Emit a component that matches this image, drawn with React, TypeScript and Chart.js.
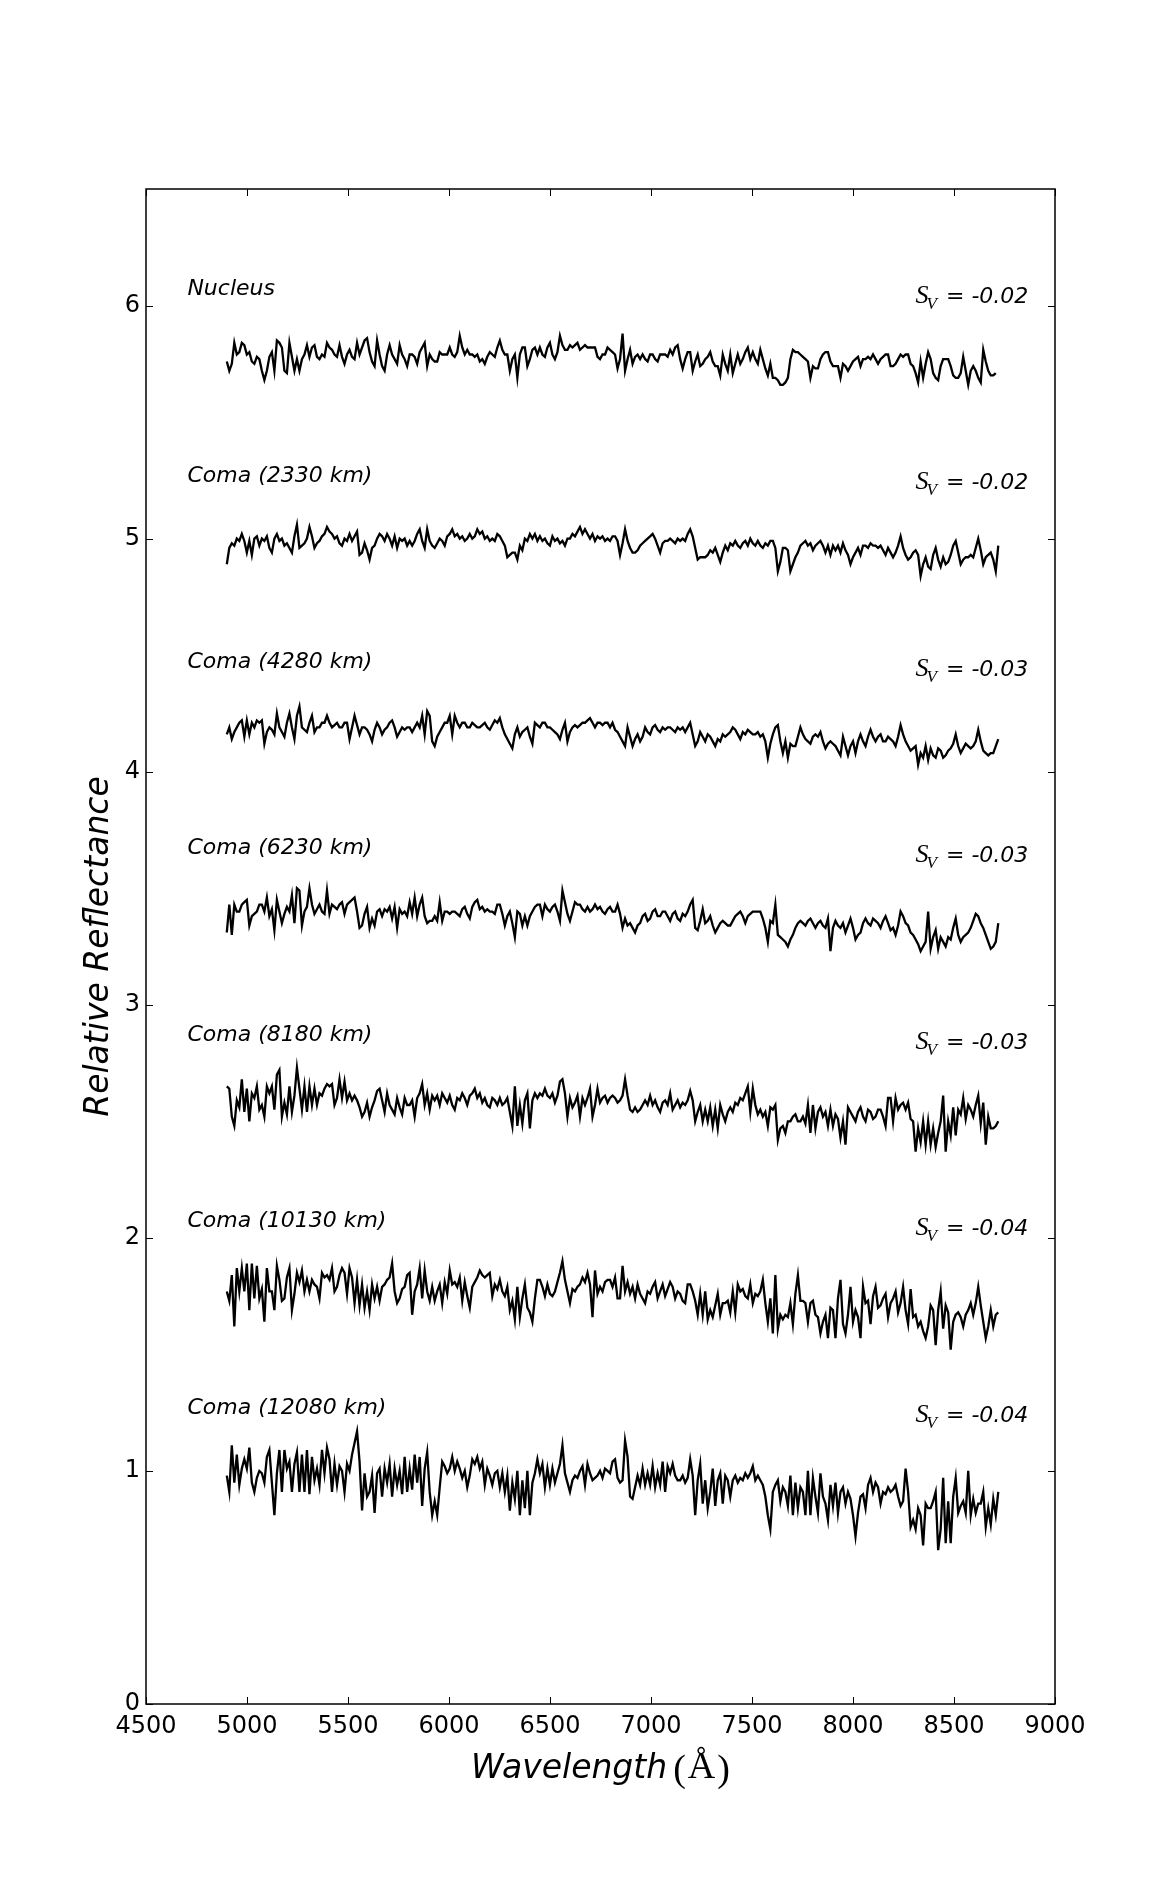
import React, { useEffect, useRef } from "react";
import { Chart, registerables } from "chart.js";

Chart.register(...registerables);

// Wavelength sampling (Å) of the spectra
const wavelengths = [
  4900,4912.4,4924.8,4937.2,4949.6,4962,4974.4,4986.8,4999.2,5011.6,
  5024,5036.4,5048.8,5061.2,5073.6,5086,5098.4,5110.8,5123.2,5135.6,
  5148,5160.4,5172.8,5185.2,5197.6,5210,5222.4,5234.8,5247.2,5259.6,
  5272,5284.4,5296.8,5309.2,5321.6,5334,5346.4,5358.8,5371.2,5383.6,
  5396,5408.4,5420.8,5433.2,5445.6,5458,5470.4,5482.8,5495.2,5507.6,
  5520,5532.4,5544.8,5557.2,5569.6,5582,5594.4,5606.8,5619.2,5631.6,
  5644,5656.4,5668.8,5681.2,5693.6,5706,5718.4,5730.8,5743.2,5755.6,
  5768,5780.4,5792.8,5805.2,5817.6,5830,5842.4,5854.8,5867.2,5879.6,
  5892,5904.4,5916.8,5929.2,5941.6,5954,5966.4,5978.8,5991.2,6003.6,
  6016,6028.4,6040.8,6053.2,6065.6,6078,6090.4,6102.8,6115.2,6127.6,
  6140,6152.4,6164.8,6177.2,6189.6,6202,6214.4,6226.8,6239.2,6251.6,
  6264,6276.4,6288.8,6301.2,6313.6,6326,6338.4,6350.8,6363.2,6375.6,
  6388,6400.4,6412.8,6425.2,6437.6,6450,6462.4,6474.8,6487.2,6499.6,
  6512,6524.4,6536.8,6549.2,6561.6,6574,6586.4,6598.8,6611.2,6623.6,
  6636,6648.4,6660.8,6673.2,6685.6,6698,6710.4,6722.8,6735.2,6747.6,
  6760,6772.4,6784.8,6797.2,6809.6,6822,6834.4,6846.8,6859.2,6871.6,
  6884,6896.4,6908.8,6921.2,6933.6,6946,6958.4,6970.8,6983.2,6995.6,
  7008,7020.4,7032.8,7045.2,7057.6,7070,7082.4,7094.8,7107.2,7119.6,
  7132,7144.4,7156.8,7169.2,7181.6,7194,7206.4,7218.8,7231.2,7243.6,
  7256,7268.4,7280.8,7293.2,7305.6,7318,7330.4,7342.8,7355.2,7367.6,
  7380,7392.4,7404.8,7417.2,7429.6,7442,7454.4,7466.8,7479.2,7491.6,
  7504,7516.4,7528.8,7541.2,7553.6,7566,7578.4,7590.8,7603.2,7615.6,
  7628,7640.4,7652.8,7665.2,7677.6,7690,7702.4,7714.8,7727.2,7739.6,
  7752,7764.4,7776.8,7789.2,7801.6,7814,7826.4,7838.8,7851.2,7863.6,
  7876,7888.4,7900.8,7913.2,7925.6,7938,7950.4,7962.8,7975.2,7987.6,
  8000,8012.4,8024.8,8037.2,8049.6,8062,8074.4,8086.8,8099.2,8111.6,
  8124,8136.4,8148.8,8161.2,8173.6,8186,8198.4,8210.8,8223.2,8235.6,
  8248,8260.4,8272.8,8285.2,8297.6,8310,8322.4,8334.8,8347.2,8359.6,
  8372,8384.4,8396.8,8409.2,8421.6,8434,8446.4,8458.8,8471.2,8483.6,
  8496,8508.4,8520.8,8533.2,8545.6,8558,8570.4,8582.8,8595.2,8607.6,
  8620,8632.4,8644.8,8657.2,8669.6,8682,8694.4,8706.8,8719.2,
];

const nucleus = [
  5.76,5.72,5.75,5.84,5.79,5.80,5.84,5.83,5.79,5.80,
  5.76,5.75,5.78,5.77,5.72,5.68,5.72,5.78,5.80,5.72,
  5.85,5.84,5.82,5.72,5.71,5.84,5.78,5.72,5.77,5.72,
  5.77,5.79,5.83,5.78,5.82,5.83,5.78,5.77,5.79,5.78,
  5.84,5.82,5.81,5.79,5.78,5.83,5.78,5.75,5.79,5.81,
  5.78,5.77,5.84,5.79,5.82,5.85,5.86,5.80,5.76,5.74,
  5.85,5.79,5.74,5.72,5.79,5.83,5.79,5.77,5.75,5.83,
  5.79,5.77,5.74,5.79,5.79,5.78,5.75,5.80,5.82,5.84,
  5.74,5.79,5.77,5.76,5.76,5.80,5.79,5.79,5.79,5.82,
  5.79,5.78,5.80,5.87,5.82,5.79,5.81,5.79,5.79,5.78,
  5.79,5.76,5.77,5.75,5.78,5.80,5.79,5.78,5.82,5.85,
  5.81,5.79,5.79,5.72,5.77,5.79,5.69,5.79,5.82,5.82,
  5.74,5.77,5.81,5.82,5.79,5.82,5.79,5.78,5.82,5.84,
  5.79,5.77,5.80,5.87,5.83,5.81,5.81,5.83,5.82,5.83,
  5.84,5.81,5.82,5.83,5.82,5.82,5.82,5.82,5.78,5.77,
  5.79,5.79,5.82,5.81,5.80,5.79,5.73,5.77,5.88,5.72,
  5.77,5.81,5.75,5.78,5.79,5.77,5.79,5.77,5.76,5.79,
  5.79,5.77,5.76,5.79,5.79,5.79,5.78,5.81,5.79,5.82,
  5.83,5.77,5.73,5.77,5.80,5.80,5.72,5.76,5.79,5.74,
  5.75,5.77,5.78,5.80,5.76,5.74,5.74,5.70,5.79,5.75,
  5.72,5.79,5.71,5.75,5.79,5.75,5.77,5.80,5.82,5.77,
  5.80,5.77,5.75,5.81,5.77,5.73,5.70,5.75,5.69,5.69,
  5.68,5.66,5.66,5.67,5.69,5.77,5.81,5.80,5.80,5.79,
  5.78,5.77,5.76,5.69,5.74,5.73,5.73,5.77,5.79,5.80,
  5.80,5.76,5.74,5.74,5.74,5.69,5.75,5.74,5.72,5.74,
  5.76,5.77,5.78,5.74,5.77,5.77,5.78,5.77,5.79,5.77,
  5.75,5.77,5.78,5.79,5.79,5.74,5.74,5.75,5.77,5.79,
  5.78,5.79,5.79,5.75,5.74,5.71,5.67,5.76,5.69,5.75,
  5.80,5.77,5.71,5.69,5.68,5.74,5.77,5.77,5.77,5.74,
  5.70,5.69,5.69,5.71,5.78,5.72,5.66,5.72,5.74,5.72,
  5.69,5.67,5.81,5.76,5.72,5.70,5.70,5.71,
];

const coma2330 = [
  4.89,4.96,4.98,4.97,5.00,4.99,5.02,4.99,4.94,4.99,
  4.93,5.00,5.01,4.97,5.00,4.99,5.01,4.96,4.94,5.00,
  5.02,4.99,5.00,4.97,4.98,4.96,4.94,5.01,5.06,4.96,
  4.97,4.98,5.00,5.05,5.01,4.96,4.98,4.99,5.01,5.02,
  5.05,5.03,5.02,5.00,5.01,4.98,4.97,5.00,4.99,5.02,
  4.99,5.01,5.03,4.93,4.94,4.98,4.95,4.91,4.96,4.97,
  5.00,5.02,5.01,4.99,5.02,5.00,4.97,5.01,4.96,5.00,
  4.99,5.00,4.97,4.99,4.97,4.99,5.02,5.04,4.99,4.96,
  5.04,4.99,4.97,4.96,4.98,5.00,4.99,4.97,5.01,5.02,
  5.04,5.01,5.02,5.00,5.01,4.99,5.00,5.02,5.00,5.01,
  5.04,5.02,5.03,5.00,5.01,4.99,5.00,4.99,5.02,5.01,
  4.99,4.97,4.92,4.93,4.94,4.94,4.91,4.97,4.95,5.00,
  4.99,5.02,5.00,5.02,4.99,5.01,4.99,5.00,4.98,4.97,
  5.01,4.99,5.00,4.98,4.99,4.97,5.00,5.00,5.02,5.01,
  5.03,5.05,5.02,5.04,5.02,5.00,5.02,4.99,5.01,5.00,
  5.01,4.99,5.00,4.99,5.01,5.01,4.99,4.93,4.98,5.04,
  4.99,4.96,4.94,4.94,4.95,4.97,4.98,4.99,5.00,5.01,
  5.02,5.00,4.97,4.94,4.98,4.99,4.99,5.00,4.99,4.98,
  5.00,4.99,5.00,4.99,5.02,5.04,5.01,4.96,4.91,4.92,
  4.92,4.92,4.93,4.95,4.94,4.96,4.93,4.90,4.94,4.97,
  4.95,4.98,4.97,4.99,4.97,4.96,4.98,4.99,4.97,5.00,
  4.98,4.97,4.99,4.97,4.96,4.98,4.97,4.99,4.99,4.96,
  4.86,4.90,4.96,4.96,4.95,4.86,4.89,4.92,4.94,4.97,
  4.98,4.99,4.97,4.98,4.95,4.97,4.98,4.99,4.97,4.94,
  4.97,4.93,4.97,4.95,4.97,4.94,4.98,4.95,4.93,4.89,
  4.92,4.94,4.96,4.93,4.97,4.97,4.96,4.98,4.97,4.97,
  4.96,4.97,4.95,4.93,4.96,4.94,4.92,4.94,4.97,5.01,
  4.96,4.93,4.91,4.92,4.94,4.95,4.93,4.84,4.89,4.92,
  4.88,4.87,4.93,4.96,4.91,4.88,4.92,4.89,4.90,4.93,
  4.97,4.99,4.94,4.89,4.91,4.92,4.92,4.93,4.92,4.96,
  5.00,4.95,4.89,4.92,4.93,4.94,4.91,4.86,4.97,
];

const coma4280 = [
  4.16,4.19,4.14,4.17,4.19,4.21,4.22,4.15,4.22,4.16,
  4.21,4.19,4.22,4.21,4.22,4.12,4.17,4.19,4.18,4.16,
  4.25,4.19,4.17,4.15,4.21,4.25,4.19,4.14,4.24,4.28,
  4.19,4.18,4.17,4.21,4.24,4.17,4.19,4.19,4.21,4.21,
  4.24,4.21,4.19,4.20,4.21,4.19,4.19,4.21,4.21,4.14,
  4.19,4.24,4.20,4.16,4.19,4.19,4.18,4.16,4.13,4.18,
  4.21,4.19,4.16,4.18,4.19,4.21,4.22,4.19,4.15,4.17,
  4.19,4.18,4.19,4.19,4.17,4.19,4.21,4.19,4.24,4.16,
  4.26,4.24,4.13,4.11,4.15,4.17,4.19,4.21,4.21,4.24,
  4.16,4.24,4.21,4.19,4.21,4.21,4.19,4.19,4.21,4.20,
  4.19,4.19,4.20,4.21,4.19,4.18,4.20,4.22,4.21,4.23,
  4.19,4.16,4.14,4.12,4.10,4.16,4.19,4.15,4.17,4.18,
  4.19,4.15,4.12,4.21,4.20,4.19,4.21,4.21,4.19,4.19,
  4.18,4.17,4.16,4.14,4.18,4.21,4.13,4.17,4.19,4.20,
  4.19,4.20,4.21,4.21,4.22,4.23,4.21,4.19,4.21,4.21,
  4.20,4.21,4.21,4.19,4.21,4.18,4.17,4.15,4.13,4.11,
  4.19,4.15,4.11,4.14,4.16,4.13,4.15,4.19,4.17,4.16,
  4.19,4.20,4.18,4.17,4.19,4.18,4.19,4.19,4.18,4.17,
  4.19,4.18,4.19,4.17,4.19,4.21,4.16,4.11,4.13,4.17,
  4.15,4.13,4.16,4.15,4.13,4.11,4.14,4.13,4.16,4.15,
  4.16,4.17,4.19,4.18,4.16,4.14,4.17,4.16,4.18,4.17,
  4.16,4.16,4.17,4.15,4.16,4.13,4.06,4.12,4.16,4.19,
  4.20,4.13,4.08,4.13,4.06,4.12,4.11,4.11,4.15,4.19,
  4.16,4.14,4.13,4.12,4.15,4.16,4.15,4.17,4.13,4.10,
  4.12,4.13,4.12,4.11,4.09,4.07,4.15,4.11,4.07,4.11,
  4.13,4.08,4.13,4.16,4.13,4.11,4.15,4.18,4.15,4.13,
  4.15,4.16,4.13,4.13,4.15,4.14,4.13,4.11,4.15,4.20,
  4.16,4.13,4.11,4.09,4.10,4.11,4.03,4.08,4.06,4.11,
  4.05,4.10,4.07,4.06,4.10,4.09,4.06,4.07,4.09,4.10,
  4.12,4.16,4.11,4.08,4.10,4.12,4.11,4.10,4.11,4.13,
  4.18,4.13,4.09,4.08,4.07,4.08,4.08,4.11,4.14,
];

const coma6230 = [
  3.31,3.43,3.30,3.43,3.40,3.40,3.43,3.44,3.45,3.34,
  3.38,3.39,3.40,3.43,3.43,3.40,3.46,3.38,3.41,3.32,
  3.45,3.40,3.35,3.39,3.42,3.40,3.47,3.35,3.50,3.49,
  3.34,3.40,3.42,3.50,3.43,3.39,3.41,3.43,3.40,3.39,
  3.49,3.39,3.43,3.42,3.41,3.43,3.44,3.39,3.43,3.44,
  3.45,3.46,3.40,3.33,3.34,3.39,3.42,3.33,3.37,3.34,
  3.40,3.41,3.38,3.41,3.40,3.42,3.37,3.42,3.33,3.41,
  3.39,3.40,3.38,3.44,3.39,3.46,3.38,3.43,3.46,3.38,
  3.35,3.36,3.36,3.38,3.36,3.44,3.36,3.40,3.40,3.39,
  3.40,3.40,3.39,3.38,3.41,3.42,3.39,3.37,3.42,3.44,
  3.45,3.41,3.42,3.40,3.41,3.40,3.40,3.39,3.43,3.43,
  3.39,3.34,3.38,3.40,3.35,3.29,3.40,3.39,3.34,3.38,
  3.34,3.38,3.40,3.42,3.43,3.43,3.38,3.43,3.41,3.40,
  3.42,3.43,3.40,3.36,3.49,3.44,3.39,3.36,3.40,3.44,
  3.43,3.43,3.41,3.40,3.42,3.40,3.41,3.43,3.41,3.42,
  3.40,3.39,3.41,3.42,3.40,3.40,3.43,3.39,3.33,3.37,
  3.34,3.35,3.33,3.31,3.34,3.35,3.38,3.39,3.36,3.37,
  3.40,3.41,3.38,3.38,3.40,3.40,3.38,3.36,3.39,3.40,
  3.37,3.36,3.39,3.38,3.40,3.43,3.45,3.33,3.32,3.36,
  3.41,3.35,3.36,3.38,3.34,3.31,3.33,3.35,3.36,3.35,
  3.34,3.34,3.36,3.38,3.39,3.40,3.38,3.35,3.38,3.39,
  3.40,3.40,3.40,3.40,3.37,3.33,3.27,3.36,3.35,3.43,
  3.30,3.29,3.28,3.27,3.25,3.28,3.30,3.33,3.35,3.36,
  3.35,3.34,3.36,3.37,3.35,3.33,3.35,3.36,3.34,3.33,
  3.37,3.23,3.33,3.36,3.34,3.33,3.35,3.31,3.34,3.37,
  3.33,3.28,3.30,3.31,3.35,3.37,3.35,3.34,3.37,3.36,
  3.35,3.33,3.36,3.38,3.35,3.32,3.33,3.30,3.34,3.40,
  3.38,3.35,3.34,3.31,3.30,3.28,3.26,3.23,3.25,3.27,
  3.40,3.24,3.29,3.32,3.24,3.29,3.27,3.25,3.29,3.28,
  3.33,3.37,3.30,3.27,3.29,3.30,3.31,3.33,3.36,3.39,
  3.38,3.35,3.33,3.30,3.27,3.24,3.25,3.27,3.35,
];

const coma8180 = [
  2.65,2.64,2.52,2.48,2.59,2.56,2.68,2.54,2.64,2.50,
  2.62,2.60,2.65,2.55,2.57,2.52,2.65,2.62,2.65,2.55,
  2.70,2.72,2.52,2.58,2.53,2.65,2.54,2.61,2.73,2.64,
  2.55,2.65,2.54,2.65,2.57,2.64,2.57,2.62,2.61,2.64,
  2.66,2.65,2.66,2.57,2.60,2.68,2.60,2.67,2.59,2.62,
  2.59,2.61,2.59,2.56,2.52,2.54,2.58,2.52,2.56,2.59,
  2.63,2.64,2.59,2.54,2.62,2.57,2.55,2.53,2.60,2.56,
  2.53,2.60,2.57,2.57,2.59,2.52,2.60,2.62,2.66,2.57,
  2.62,2.55,2.61,2.59,2.61,2.57,2.62,2.60,2.58,2.61,
  2.57,2.55,2.60,2.59,2.62,2.60,2.57,2.61,2.62,2.64,
  2.60,2.62,2.58,2.60,2.57,2.56,2.60,2.59,2.57,2.60,
  2.57,2.58,2.60,2.54,2.48,2.65,2.48,2.57,2.49,2.59,
  2.62,2.47,2.59,2.62,2.60,2.62,2.61,2.64,2.61,2.60,
  2.62,2.58,2.61,2.67,2.68,2.62,2.52,2.60,2.56,2.58,
  2.61,2.52,2.60,2.57,2.60,2.64,2.52,2.57,2.64,2.58,
  2.60,2.61,2.58,2.60,2.61,2.60,2.58,2.59,2.61,2.68,
  2.61,2.55,2.54,2.56,2.54,2.55,2.57,2.59,2.57,2.61,
  2.57,2.59,2.56,2.54,2.58,2.59,2.57,2.62,2.55,2.57,
  2.59,2.56,2.58,2.57,2.59,2.63,2.59,2.50,2.54,2.57,
  2.50,2.55,2.50,2.56,2.48,2.55,2.47,2.57,2.53,2.50,
  2.54,2.56,2.54,2.58,2.57,2.60,2.59,2.62,2.65,2.54,
  2.64,2.57,2.53,2.55,2.52,2.54,2.48,2.56,2.55,2.57,
  2.42,2.47,2.48,2.45,2.50,2.50,2.52,2.53,2.50,2.50,
  2.52,2.49,2.57,2.45,2.57,2.47,2.54,2.56,2.52,2.54,
  2.48,2.55,2.48,2.53,2.51,2.43,2.50,2.40,2.56,2.54,
  2.52,2.50,2.54,2.56,2.52,2.50,2.55,2.54,2.51,2.52,
  2.55,2.55,2.52,2.48,2.60,2.60,2.50,2.60,2.55,2.57,
  2.58,2.55,2.58,2.51,2.50,2.37,2.47,2.41,2.50,2.40,
  2.50,2.40,2.47,2.39,2.45,2.50,2.61,2.37,2.50,2.44,
  2.56,2.44,2.55,2.53,2.60,2.51,2.57,2.55,2.52,2.57,
  2.61,2.49,2.58,2.40,2.52,2.47,2.47,2.48,2.50,
];

const coma10130 = [
  1.77,1.73,1.84,1.62,1.87,1.77,1.87,1.77,1.89,1.69,
  1.89,1.74,1.88,1.74,1.78,1.64,1.87,1.77,1.77,1.69,
  1.88,1.82,1.73,1.74,1.83,1.87,1.69,1.76,1.85,1.81,
  1.86,1.77,1.82,1.77,1.82,1.80,1.79,1.74,1.85,1.83,
  1.84,1.82,1.87,1.77,1.79,1.84,1.87,1.85,1.76,1.87,
  1.83,1.72,1.82,1.71,1.80,1.70,1.77,1.69,1.80,1.74,
  1.79,1.73,1.79,1.80,1.82,1.83,1.89,1.77,1.72,1.74,
  1.78,1.79,1.84,1.85,1.67,1.77,1.80,1.87,1.74,1.86,
  1.77,1.73,1.79,1.73,1.77,1.80,1.72,1.81,1.76,1.86,
  1.80,1.81,1.79,1.83,1.73,1.81,1.75,1.70,1.79,1.81,
  1.83,1.86,1.84,1.83,1.84,1.85,1.75,1.80,1.78,1.82,
  1.77,1.75,1.79,1.69,1.73,1.65,1.79,1.66,1.74,1.80,
  1.70,1.68,1.64,1.74,1.82,1.82,1.79,1.75,1.80,1.76,
  1.75,1.77,1.81,1.85,1.90,1.82,1.77,1.72,1.78,1.77,
  1.79,1.80,1.83,1.81,1.85,1.80,1.66,1.86,1.76,1.79,
  1.77,1.81,1.82,1.82,1.79,1.83,1.74,1.74,1.88,1.77,
  1.81,1.76,1.79,1.74,1.80,1.76,1.74,1.72,1.77,1.76,
  1.79,1.81,1.74,1.77,1.80,1.75,1.78,1.81,1.79,1.74,
  1.77,1.76,1.73,1.72,1.80,1.80,1.77,1.73,1.67,1.76,
  1.67,1.77,1.65,1.69,1.66,1.71,1.76,1.67,1.72,1.72,
  1.73,1.68,1.77,1.68,1.80,1.77,1.78,1.75,1.74,1.80,
  1.72,1.76,1.75,1.77,1.82,1.72,1.64,1.74,1.59,1.84,
  1.61,1.67,1.65,1.67,1.66,1.72,1.63,1.76,1.84,1.73,
  1.73,1.72,1.64,1.72,1.73,1.67,1.66,1.59,1.64,1.67,
  1.57,1.70,1.69,1.57,1.74,1.82,1.63,1.59,1.67,1.79,
  1.64,1.69,1.66,1.57,1.79,1.72,1.73,1.63,1.75,1.79,
  1.70,1.71,1.74,1.76,1.66,1.72,1.74,1.77,1.68,1.72,
  1.79,1.69,1.63,1.78,1.66,1.67,1.62,1.64,1.60,1.57,
  1.62,1.71,1.69,1.54,1.69,1.77,1.61,1.71,1.68,1.52,
  1.64,1.67,1.68,1.66,1.62,1.67,1.69,1.72,1.67,1.72,
  1.79,1.71,1.64,1.57,1.62,1.69,1.62,1.67,1.68,
];

const coma12080 = [
  0.98,0.91,1.11,0.95,1.07,0.94,1.01,1.05,1.01,1.10,
  0.95,0.91,0.97,1.00,0.99,0.95,1.06,1.09,0.95,0.81,
  0.99,1.09,0.91,1.09,1.01,1.04,0.91,1.03,1.08,0.91,
  1.07,0.91,1.09,0.90,1.06,0.96,1.01,0.94,1.09,0.99,
  1.10,1.05,0.91,1.03,0.94,1.02,1.00,0.91,1.03,1.00,
  1.07,1.12,1.17,1.04,0.83,0.99,0.89,0.91,0.98,0.82,
  0.99,1.01,0.89,1.01,0.95,1.03,0.89,1.01,0.94,1.00,
  0.90,1.06,0.91,1.01,0.92,1.07,0.95,1.06,0.85,1.01,
  1.08,0.91,0.81,0.87,0.81,0.93,1.04,1.02,0.99,1.01,
  1.06,1.00,1.04,1.01,0.97,1.00,0.93,0.98,1.05,1.03,
  1.06,1.01,1.04,0.94,1.01,0.98,0.94,0.99,1.00,0.93,
  0.99,0.91,0.98,0.83,0.95,0.88,1.00,0.81,0.96,0.84,
  1.00,0.81,0.95,0.99,1.05,0.99,1.03,0.93,1.01,0.94,
  1.01,0.95,0.99,1.03,1.11,0.99,0.95,0.91,0.96,0.98,
  0.97,1.00,1.02,0.94,1.03,0.99,0.96,0.97,0.98,1.00,
  0.97,1.01,1.00,0.99,1.04,1.05,0.97,0.95,0.96,1.13,
  1.06,0.89,0.88,0.93,0.98,0.94,1.01,0.94,0.99,0.94,
  1.02,0.93,0.99,0.94,1.04,0.91,1.02,0.99,1.03,0.98,
  0.96,0.96,0.98,0.95,0.97,1.05,0.98,0.81,0.96,1.03,
  0.86,0.96,0.84,0.91,1.01,0.85,0.96,0.99,0.86,0.98,
  0.96,0.89,0.96,0.98,0.95,0.97,0.96,0.99,0.97,0.99,
  1.02,0.96,0.98,0.96,0.94,0.89,0.81,0.75,0.91,0.94,
  0.96,0.87,0.93,0.91,0.85,0.98,0.81,0.95,0.84,0.93,
  0.91,0.81,1.00,0.81,0.97,0.89,0.82,0.99,0.89,0.86,
  0.79,0.94,0.85,0.95,0.82,0.91,0.93,0.86,0.91,0.88,
  0.81,0.72,0.82,0.89,0.90,0.84,0.94,0.97,0.91,0.95,
  0.93,0.86,0.91,0.90,0.93,0.91,0.92,0.94,0.89,0.85,
  0.87,1.01,0.91,0.76,0.79,0.75,0.84,0.81,0.68,0.86,
  0.84,0.84,0.87,0.91,0.66,0.75,0.97,0.69,0.87,0.69,
  0.89,0.97,0.82,0.85,0.87,0.82,1.00,0.81,0.88,0.82,
  0.86,0.86,0.91,0.76,0.84,0.77,0.88,0.81,0.91,
];

const seriesNames = [
  "Nucleus",
  "Coma (2330 km)",
  "Coma (4280 km)",
  "Coma (6230 km)",
  "Coma (8180 km)",
  "Coma (10130 km)",
  "Coma (12080 km)",
];
const slopeValues = ["-0.02", "-0.02", "-0.03", "-0.03", "-0.03", "-0.04", "-0.04"];
const xTickValues = [4500, 5000, 5500, 6000, 6500, 7000, 7500, 8000, 8500, 9000];
const yTickValues = [0, 1, 2, 3, 4, 5, 6];

const spectra = [nucleus, coma2330, coma4280, coma6230, coma8180, coma10130, coma12080];

const frameAndTextPlugin = {
  id: "frameAndText",
  afterDraw(chart: any) {
    const { ctx, chartArea: a, scales } = chart;
    const xs = scales.x;
    const ys = scales.y;
    ctx.save();
    ctx.strokeStyle = "#000";
    ctx.fillStyle = "#000";
    ctx.lineWidth = 1.5;
    ctx.strokeRect(a.left, a.top, a.right - a.left, a.bottom - a.top);
    ctx.lineWidth = 1;
    const tl = 7;
    ctx.beginPath();
    xTickValues.forEach((v) => {
      const px = Math.round(xs.getPixelForValue(v)) + 0.5;
      ctx.moveTo(px, a.bottom);
      ctx.lineTo(px, a.bottom - tl);
      ctx.moveTo(px, a.top);
      ctx.lineTo(px, a.top + tl);
    });
    yTickValues.forEach((v) => {
      const py = Math.round(ys.getPixelForValue(v)) + 0.5;
      ctx.moveTo(a.left, py);
      ctx.lineTo(a.left + tl, py);
      ctx.moveTo(a.right, py);
      ctx.lineTo(a.right - tl, py);
    });
    ctx.stroke();

    ctx.textBaseline = "alphabetic";
    seriesNames.forEach((name, i) => {
      ctx.font = 'italic 22px "DejaVu Sans"';
      ctx.textAlign = "left";
      const lx = xs.getPixelForValue(4705);
      const ly = ys.getPixelForValue(6.045 - 0.8 * i);
      ctx.fillText(name, lx, ly);

      const rx = xs.getPixelForValue(8868);
      const ry = ys.getPixelForValue(6.012 - 0.8 * i);
      ctx.textAlign = "right";
      const rest = "= " + slopeValues[i];
      ctx.fillText(rest, rx, ry);
      const wRest = ctx.measureText(rest).width;
      const vRight = rx - wRest - 9;
      ctx.font = 'italic 17px "Liberation Serif"';
      ctx.fillText("V", vRight, ry + 6);
      const wV = ctx.measureText("V").width;
      ctx.font = 'italic 26px "Liberation Serif"';
      ctx.fillText("S", vRight - wV + 2, ry);
    });

    ctx.save();
    ctx.translate(108, (a.top + a.bottom) / 2);
    ctx.rotate(-Math.PI / 2);
    ctx.font = 'italic 33px "DejaVu Sans"';
    ctx.textAlign = "center";
    ctx.fillText("Relative Reflectance", 0, 0);
    ctx.restore();

    ctx.font = 'italic 33px "DejaVu Sans"';
    const w1 = ctx.measureText("Wavelength").width;
    ctx.font = '38px "Liberation Serif"';
    const wp = ctx.measureText("(").width;
    const wa = ctx.measureText("Å").width;
    const gap = 6;
    const inner = 2;
    const total = w1 + gap + wp + inner + wa + inner + wp;
    let cx = (a.left + a.right) / 2 - total / 2;
    const by = 1778;
    ctx.textAlign = "left";
    ctx.font = 'italic 33px "DejaVu Sans"';
    ctx.fillText("Wavelength", cx, by);
    cx += w1 + gap;
    ctx.font = '38px "Liberation Serif"';
    ctx.fillText("(", cx, by + 3);
    cx += wp + inner;
    ctx.fillText("Å", cx, by);
    cx += wa + inner;
    ctx.fillText(")", cx, by + 3);
    ctx.restore();
  },
};

export default function App() {
  const canvasRef = useRef<HTMLCanvasElement | null>(null);

  useEffect(() => {
    const canvas = canvasRef.current;
    if (!canvas) return;
    const chart = new Chart(canvas, {
      type: "line",
      data: {
        datasets: spectra.map((s, k) => ({
          label: seriesNames[k],
          data: s.map((v, i) => ({ x: wavelengths[i], y: v })),
          borderColor: "#000",
          backgroundColor: "#000",
          borderWidth: 2.3,
          pointRadius: 0,
          fill: false,
          tension: 0,
        })),
      },
      options: {
        responsive: false,
        animation: false,
        devicePixelRatio: 1,
        events: [],
        layout: { padding: { top: 189, right: 117, left: 0, bottom: 0 } },
        plugins: { legend: { display: false }, tooltip: { enabled: false } },
        scales: {
          x: {
            type: "linear",
            min: 4500,
            max: 9000,
            grid: { display: false, drawTicks: false },
            border: { display: false },
            ticks: {
              stepSize: 500,
              autoSkip: false,
              maxRotation: 0,
              minRotation: 0,
              color: "#000",
              padding: 8,
              font: { family: "DejaVu Sans", size: 24 },
              callback: (v: any) => String(v),
            },
            afterFit: (s: any) => {
              s.height = 190;
            },
          },
          y: {
            type: "linear",
            min: 0,
            max: 6.5,
            grid: { display: false, drawTicks: false },
            border: { display: false },
            ticks: {
              stepSize: 1,
              color: "#000",
              padding: 6,
              font: { family: "DejaVu Sans", size: 24 },
              callback: (v: any) => String(v),
            },
            afterBuildTicks: (s: any) => {
              s.ticks = yTickValues.map((v) => ({ value: v }));
            },
            afterFit: (s: any) => {
              s.width = 146;
            },
          },
        },
      },
      plugins: [frameAndTextPlugin],
    });
    return () => chart.destroy();
  }, []);

  return (
    <div style={{ position: "absolute", left: 0, top: 0, width: 1172, height: 1894, background: "#fff" }}>
      <canvas ref={canvasRef} width={1172} height={1894} style={{ display: "block" }} />
    </div>
  );
}
